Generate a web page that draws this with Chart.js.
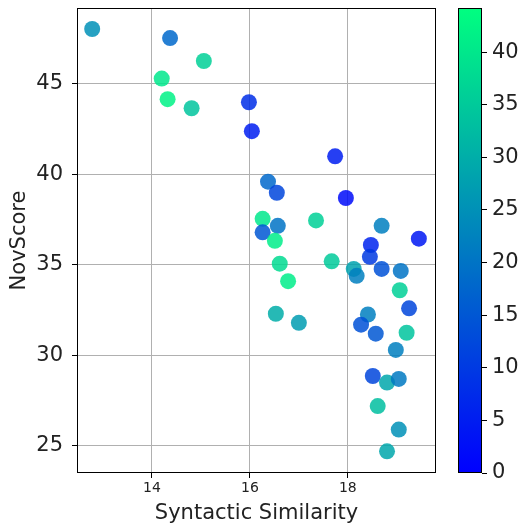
<!DOCTYPE html>
<html>
<head>
<meta charset="utf-8">
<script src="https://cdn.jsdelivr.net/npm/chart.js@4"></script>
<style>
html,body{margin:0;padding:0;background:#fff;}
#wrap{position:relative;width:520px;height:527px;}
#main{position:absolute;left:0;top:0;}
#cbar{position:absolute;left:440px;top:0;}
</style>
</head>
<body>
<div id="wrap">
<canvas id="main" width="440" height="527"></canvas>
<canvas id="cbar" width="80" height="527"></canvas>
</div>
<script>
// ---- data ----
const syntacticSimilarity = [12.78,14.37,15.06,14.20,14.32,14.81,15.98,16.04,16.37,16.55,17.74,17.96,16.26,16.57,16.26,16.51,17.35,18.69,19.45,18.47,18.45,16.61,17.67,18.12,18.18,18.69,19.08,16.78,19.06,16.53,17.00,19.25,18.41,18.27,18.57,19.20,18.98,18.51,18.80,19.04,18.61,19.04,18.80];
const novScore = [48.04,47.54,46.27,45.30,44.16,43.66,43.99,42.39,39.60,38.99,41.00,38.70,37.55,37.16,36.80,36.33,37.46,37.16,36.45,36.10,35.45,35.07,35.20,34.78,34.40,34.78,34.67,34.10,33.60,32.30,31.80,32.60,32.26,31.70,31.20,31.25,30.30,28.86,28.50,28.70,27.20,25.90,24.70];
const colorValue = [25,18,36,40,42,34,8,5,18,12,5,2,40,20,15,41,36,22,4,6,10,38,35,28,22,14,20,41,36,30,27,12,22,14,15,34,22,12,29,21,33,25,29];
const xTicks = [14,16,18];
const yTicks = [25,30,35,40,45];
const cbTicks = [0,5,10,15,20,25,30,35,40];
const cMin = 0, cMax = 44.2;

function winter(v, a){
  const t = Math.max(0, Math.min(1, (v - cMin) / (cMax - cMin)));
  const g = Math.round(255 * t), b = Math.round(255 * (1 - 0.5 * t));
  return a === undefined ? `rgb(0,${g},${b})` : `rgba(0,${g},${b},${a})`;
}

const FONT = "'DejaVu Sans', sans-serif";
const points = syntacticSimilarity.map((x, i) => ({x: x, y: novScore[i]}));
const pointColors = colorValue.map(v => winter(v, 0.85));

const frame = {
  id: 'frame',
  afterDraw(chart){
    const {ctx, chartArea: a} = chart;
    ctx.save();
    ctx.strokeStyle = '#000';
    ctx.lineWidth = 1;
    ctx.strokeRect(Math.round(a.left)+0.5, Math.round(a.top)+0.5, Math.round(a.right-a.left)-1, Math.round(a.bottom-a.top)-1);
    ctx.restore();
  }
};
function noPadY(s){ s.paddingTop = 0; s.paddingBottom = 0; }
function noPadX(s){ s.paddingLeft = 0; s.paddingRight = 0; }

new Chart(document.getElementById('main'), {
  type: 'scatter',
  data: {datasets: [{
    data: points,
    backgroundColor: pointColors,
    borderWidth: 0,
    pointRadius: 8,
    pointHoverRadius: 8
  }]},
  options: {
    responsive: false,
    animation: false,
    devicePixelRatio: 1,
    layout: {autoPadding: false, padding: {left: 0, right: 4, top: 8, bottom: 0}},
    plugins: {legend: {display: false}, tooltip: {enabled: false}},
    scales: {
      x: {
        type: 'linear', min: 12.47, max: 19.8,
        afterBuildTicks: s => { s.ticks = xTicks.map(v => ({value: v})); },
        afterFit: s => { s.height = 54; noPadX(s); },
        grid: {color: '#b0b0b0', lineWidth: 1, tickColor: '#000', tickLength: 5},
        border: {display: false},
        ticks: {color: '#222', font: {family: FONT, size: 14}, padding: 2, maxRotation: 0},
        title: {display: true, text: 'Syntactic Similarity', color: '#222', font: {family: FONT, size: 21}, padding: {top: 0, bottom: 1}}
      },
      y: {
        type: 'linear', min: 23.5, max: 49.2,
        afterBuildTicks: s => { s.ticks = yTicks.map(v => ({value: v})); },
        afterFit: s => { s.width = 77; noPadY(s); },
        grid: {color: '#b0b0b0', lineWidth: 1, tickColor: '#000', tickLength: 5},
        border: {display: false},
        ticks: {color: '#222', font: {family: FONT, size: 21}, padding: 9},
        title: {display: true, text: 'NovScore', color: '#222', font: {family: FONT, size: 21}, padding: {top: 7, bottom: 4}}
      }
    }
  },
  plugins: [frame]
});

const gradientBar = {
  id: 'gradientBar',
  beforeDatasetsDraw(chart){
    const {ctx, chartArea: a} = chart;
    const ys = chart.scales.y;
    const y0 = ys.getPixelForValue(cMin), y1 = ys.getPixelForValue(cMax);
    const grad = ctx.createLinearGradient(0, y0, 0, y1);
    for (let i = 0; i <= 10; i++) grad.addColorStop(i/10, winter(cMin + (cMax - cMin) * i / 10));
    ctx.save();
    ctx.fillStyle = grad;
    ctx.fillRect(a.left, y1, a.right - a.left, y0 - y1);
    ctx.restore();
  }
};

new Chart(document.getElementById('cbar'), {
  type: 'scatter',
  data: {datasets: [{data: []}]},
  options: {
    responsive: false,
    animation: false,
    devicePixelRatio: 1,
    layout: {autoPadding: false, padding: {left: 18, right: 0, top: 8, bottom: 54}},
    plugins: {legend: {display: false}, tooltip: {enabled: false}},
    scales: {
      x: {display: false, min: 0, max: 1},
      y: {
        position: 'right', type: 'linear', min: cMin, max: cMax,
        afterBuildTicks: s => { s.ticks = cbTicks.map(v => ({value: v})); },
        afterFit: s => { s.width = 38; noPadY(s); },
        grid: {drawOnChartArea: false, tickColor: '#000', tickLength: 5, color: '#000'},
        border: {display: false},
        ticks: {color: '#222', font: {family: FONT, size: 21}, padding: 5}
      }
    }
  },
  plugins: [gradientBar, frame]
});
</script>
</body>
</html>
